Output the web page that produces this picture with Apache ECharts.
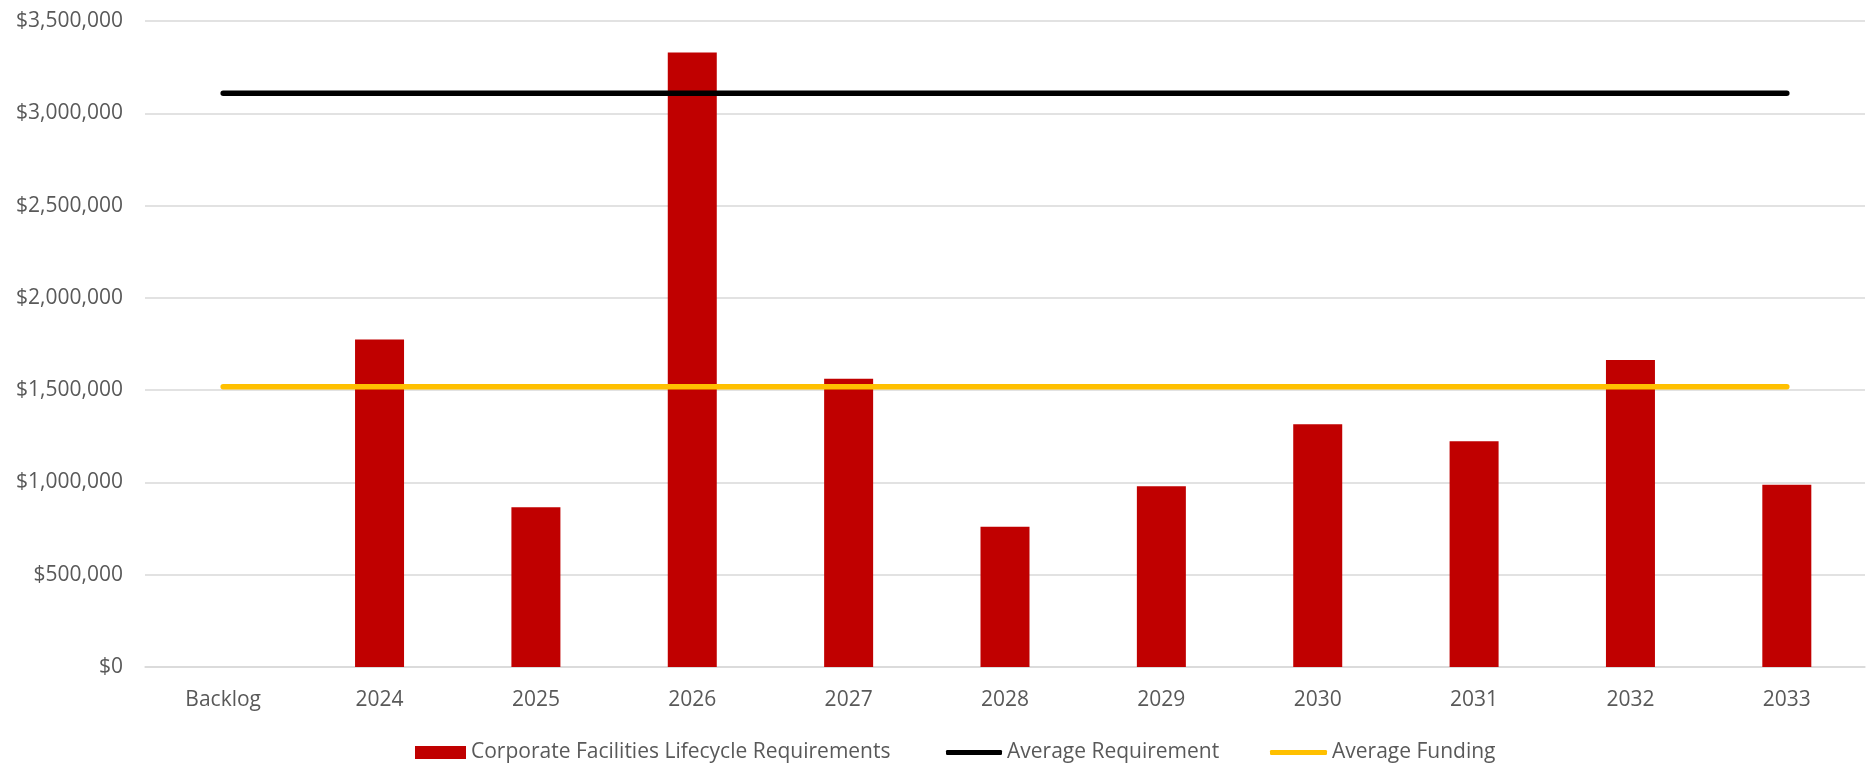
<!DOCTYPE html>
<html>
<head>
<meta charset="utf-8">
<script src="https://cdn.jsdelivr.net/npm/echarts@6/dist/echarts.min.js"></script>
<style>
html,body{margin:0;padding:0;background:#fff;}
#chart{width:1871px;height:765px;}
</style>
</head>
<body>
<div id="chart"></div>
<script>
const categories = ['Backlog','2024','2025','2026','2027','2028','2029','2030','2031','2032','2033'];
const lifecycleRequirements = [0, 1775000, 865000, 3330000, 1562000, 760000, 979000, 1315000, 1223000, 1663000, 988000];
const averageRequirement = [3108000, 3108000, 3108000, 3108000, 3108000, 3108000, 3108000, 3108000, 3108000, 3108000, 3108000];
const averageFunding = [1519000, 1519000, 1519000, 1519000, 1519000, 1519000, 1519000, 1519000, 1519000, 1519000, 1519000];
const yTicks = { min: 0, max: 3500000, interval: 500000 };

const FONT = '"Open Sans", "Noto Sans", sans-serif';
const TXT = '#595959';

const chart = echarts.init(document.getElementById('chart'), null, { renderer: 'canvas' });
const legendText = { fontFamily: FONT, fontSize: 21, color: TXT };
chart.setOption({
  animation: false,
  backgroundColor: '#ffffff',
  grid: { left: 145, right: 6, top: 21, bottom: 98, containLabel: false },
  legend: [
    { left: 410, top: 737, itemWidth: 51, itemHeight: 13, itemGap: 0, textStyle: legendText,
      data: [{ name: 'Corporate Facilities Lifecycle Requirements', icon: 'rect' }] },
    { left: 941, top: 737, itemWidth: 56, itemHeight: 5, itemGap: 0, textStyle: legendText,
      data: [{ name: 'Average Requirement', icon: 'roundRect', itemStyle: { color: '#000000' } }] },
    { left: 1265, top: 737, itemWidth: 57, itemHeight: 5, itemGap: 0, textStyle: legendText,
      data: [{ name: 'Average Funding', icon: 'roundRect', itemStyle: { color: '#FFC000' } }] }
  ],
  xAxis: {
    type: 'category',
    data: categories,
    boundaryGap: true,
    axisLine: { show: true, lineStyle: { color: '#d9d9d9', width: 1.5 } },
    axisTick: { show: false },
    axisLabel: { fontFamily: FONT, fontSize: 21, color: TXT, margin: 23 }
  },
  yAxis: {
    type: 'value',
    min: yTicks.min, max: yTicks.max, interval: yTicks.interval,
    axisLine: { show: false },
    axisTick: { show: false },
    splitLine: { lineStyle: { color: '#d9d9d9', width: 1.5 } },
    axisLabel: {
      fontFamily: FONT, fontSize: 21, color: TXT, margin: 22,
      formatter: v => '$' + v.toLocaleString('en-US')
    }
  },
  series: [
    {
      name: 'Corporate Facilities Lifecycle Requirements',
      type: 'bar',
      data: lifecycleRequirements,
      barWidth: 49,
      itemStyle: { color: '#C00000' },
      z: 2
    },
    {
      name: 'Average Requirement',
      type: 'line',
      data: averageRequirement,
      showSymbol: false,
      symbol: 'none',
      lineStyle: { color: '#000000', width: 5.5, cap: 'round' },
      itemStyle: { color: '#000000' },
      z: 3
    },
    {
      name: 'Average Funding',
      type: 'line',
      data: averageFunding,
      showSymbol: false,
      symbol: 'none',
      lineStyle: { color: '#FFC000', width: 5.5, cap: 'round' },
      itemStyle: { color: '#FFC000' },
      z: 4
    }
  ]
});
</script>
</body>
</html>
